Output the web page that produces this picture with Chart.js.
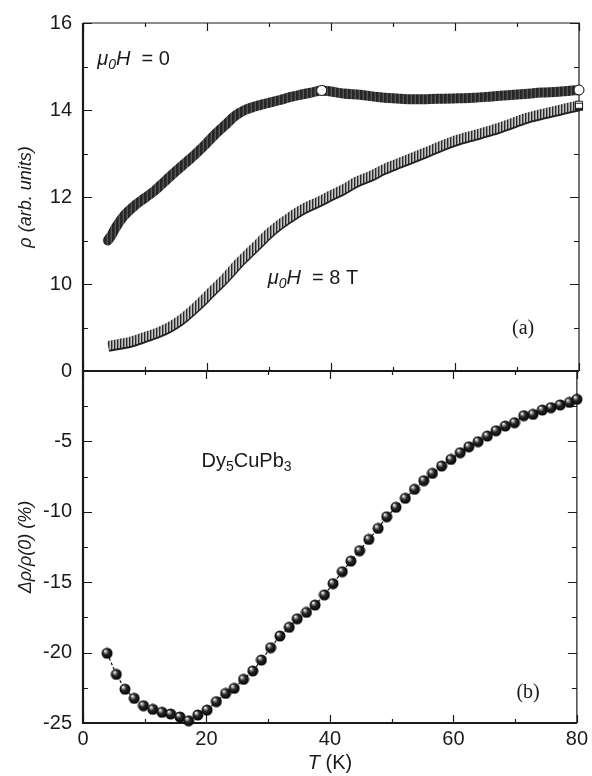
<!DOCTYPE html>
<html>
<head>
<meta charset="utf-8">
<script src="https://cdn.jsdelivr.net/npm/chart.js@4.4.0/dist/chart.umd.min.js"></script>
<style>
  html, body { margin: 0; padding: 0; background: #fff; }
  #wrap { position: relative; width: 592px; height: 776px; }
  #wrap canvas { position: absolute; left: 0; top: 0; }
</style>
</head>
<body>
<div id="wrap">
  <canvas id="bottom-chart" width="592" height="776"></canvas>
  <canvas id="top-chart" width="592" height="776"></canvas>
</div>
<script>
// panel (a): resistivity, zero field (circles)
const tempZero = [4.0, 4.6, 5.2, 6.5, 8.4, 10.0, 11.6, 13.2, 14.8, 16.5, 18.1, 19.7, 21.3, 22.9, 24.5, 26.1, 27.7, 29.5, 31.8, 33.5, 35.0, 36.8, 38.5,
                  39.8, 42.0, 44.7, 47.5, 50.0, 52.5, 55.3, 58.0, 60.5, 63.0, 65.9, 68.5, 71.3, 74.0, 76.7, 80.0];
const rhoZero  = [11.0, 11.12, 11.28, 11.55, 11.81, 11.98, 12.15, 12.36, 12.57, 12.78, 12.98, 13.2, 13.44, 13.65, 13.86, 14.0, 14.08, 14.15, 14.23, 14.3, 14.35, 14.4, 14.45,
                  14.43, 14.38, 14.35, 14.3, 14.27, 14.25, 14.25, 14.26, 14.27, 14.28, 14.31, 14.34, 14.37, 14.4, 14.42, 14.46];

// panel (a): resistivity, 8 T (squares)
const tempField = [4.1, 5.7, 7.3, 8.9, 10.5, 12.1, 13.8, 15.2, 16.5, 18.1, 19.7, 21.0, 22.4, 23.7, 25.0, 26.4, 28.0, 29.9, 31.8, 33.4, 35.0, 38.2,
                   40.0, 42.0, 44.2, 46.3, 48.5, 51.1, 53.2, 55.3, 58.0, 60.5, 63.2, 65.9, 68.6, 71.3, 74.0, 76.7, 78.5, 80.0];
const rhoField  = [8.59, 8.63, 8.67, 8.74, 8.82, 8.9, 9.01, 9.13, 9.27, 9.47, 9.69, 9.88, 10.07, 10.27, 10.48, 10.68, 10.9, 11.17, 11.39, 11.55, 11.7, 11.92,
                   12.05, 12.19, 12.37, 12.49, 12.65, 12.8, 12.92, 13.04, 13.2, 13.33, 13.44, 13.55, 13.68, 13.82, 13.92, 14.01, 14.07, 14.12];

// panel (b): magnetoresistance
const tempMR = [3.9, 5.4, 6.8, 8.3, 9.8, 11.3, 12.8, 14.2, 15.7, 17.1, 18.6, 20.1, 21.6, 23.1, 24.5, 26.0, 27.5, 28.9, 30.4, 31.9, 33.4, 34.7,
                36.2, 37.6, 39.1, 40.5, 42.0, 43.4, 44.8, 46.3, 47.8, 49.2, 50.7, 52.2, 53.7, 55.2, 56.6, 58.1, 59.6, 61.1, 62.5, 64.0,
                65.5, 66.9, 68.4, 69.9, 71.4, 72.9, 74.4, 75.8, 77.3, 78.8, 80.0];
const mrValues = [-20.05, -21.55, -22.6, -23.25, -23.77, -24.03, -24.24, -24.36, -24.57, -24.84, -24.43, -24.08, -23.48, -22.9, -22.54, -21.9, -21.3, -20.53, -19.65, -18.82, -18.2, -17.6,
                  -17.14, -16.62, -15.9, -15.1, -14.25, -13.5, -12.76, -11.96, -11.18, -10.35, -9.68, -9.04, -8.4, -7.79, -7.27, -6.75, -6.28, -5.8, -5.38, -5.02,
                  -4.62, -4.24, -3.91, -3.67, -3.17, -3.08, -2.77, -2.6, -2.41, -2.23, -2.01];

// tick labels
const tempTickLabels = [0, 20, 40, 60, 80];
const rhoTickLabels = [10, 12, 14, 16];
const mrTickLabels = [0, -5, -10, -15, -20, -25];

const SANS = "'Liberation Sans', Arial, sans-serif";
const SERIF = "'Liberation Serif', 'Times New Roman', serif";
const INK = '#1a1a1a';

// end of each measurement run shows as an open marker
const openZero = [tempZero.indexOf(38.5), tempZero.length - 1];
const openField = [tempField.length - 1];

function pts(xs, ys) {
    return xs.map((x, i) => ({ x: x, y: ys[i] }));
}

// vertical stripes, imitating hundreds of stacked markers
function stripes(colors) {
    const c = document.createElement('canvas');
    c.width = colors.length;
    c.height = 1;
    const g = c.getContext('2d');
    colors.forEach((col, i) => { g.fillStyle = col; g.fillRect(i, 0, 1, 1); });
    return g.createPattern(c, 'repeat');
}

// little shaded ball used in panel (b)
function makeSphere(r) {
    const c = document.createElement('canvas');
    c.width = c.height = r * 2 + 1;
    const g = c.getContext('2d');
    const grad = g.createRadialGradient(r * 0.7, r * 0.65, 0.3, r + 0.5, r + 0.5, r);
    grad.addColorStop(0, '#ffffff');
    grad.addColorStop(0.2, '#a0a0a0');
    grad.addColorStop(0.45, '#2a2a2a');
    grad.addColorStop(1, '#000000');
    g.fillStyle = grad;
    g.beginPath();
    g.arc(r + 0.5, r + 0.5, r, 0, Math.PI * 2);
    g.fill();
    return c;
}

/**
 * Frame with inward ticks on all four sides
 */
const framePlugin = {
    id: 'frame',
    beforeDatasetsDraw(chart, args, opts) {
        const { ctx, chartArea: a, scales } = chart;
        const xs = scales.x, ys = scales.y;
        const isMajor = (v, step) => Math.abs(v / step - Math.round(v / step)) < 1e-6;
        ctx.save();
        ctx.strokeStyle = INK;
        ctx.lineWidth = 1.2;
        ctx.beginPath();
        for (let v = xs.min; v <= xs.max + 1e-9; v += opts.xStep) {
            const px = Math.round(xs.getPixelForValue(v)) + 0.5;
            const len = isMajor(v, opts.xMajor) ? 8 : 4;
            ctx.moveTo(px, a.top); ctx.lineTo(px, a.top + len);
            ctx.moveTo(px, a.bottom); ctx.lineTo(px, a.bottom - len);
        }
        for (let v = ys.min; v <= ys.max + 1e-9; v += opts.yStep) {
            const py = Math.round(ys.getPixelForValue(v)) + 0.5;
            const len = isMajor(v, opts.yMajor) ? 9 : 5;
            ctx.moveTo(a.left, py); ctx.lineTo(a.left + len, py);
            ctx.moveTo(a.right, py); ctx.lineTo(a.right - len, py);
        }
        ctx.stroke();
        // top and right edges thinner
        ctx.beginPath();
        ctx.moveTo(a.left, a.top); ctx.lineTo(a.right, a.top); ctx.lineTo(a.right, a.bottom);
        ctx.stroke();
        // left and bottom axes heavier
        ctx.lineWidth = 2.2;
        ctx.beginPath();
        ctx.moveTo(a.left, a.top); ctx.lineTo(a.left, a.bottom); ctx.lineTo(a.right, a.bottom);
        ctx.stroke();
        ctx.restore();
    }
};

// dark lower edge under the 8 T band
const edgePlugin = {
    id: 'edge',
    beforeDatasetDraw(chart, args) {
        if (args.index !== 1) return;
        const ctx = chart.ctx;
        ctx.save();
        ctx.shadowColor = '#222';
        ctx.shadowOffsetY = 2;
        ctx.shadowBlur = 0;
    },
    afterDatasetDraw(chart, args) {
        if (args.index !== 1) return;
        chart.ctx.restore();
    }
};

function drawRich(ctx, x, y, parts) {
    let cx = x;
    ctx.textBaseline = 'alphabetic';
    ctx.textAlign = 'left';
    for (const p of parts) {
        ctx.font = p.font;
        ctx.fillText(p.text, cx, y + (p.dy || 0));
        cx += ctx.measureText(p.text).width;
    }
}

/**
 * Panel annotations, anchored in data coordinates
 */
const notesPlugin = {
    id: 'notes',
    afterDraw(chart, args, opts) {
        const { ctx, scales } = chart;
        ctx.save();
        ctx.fillStyle = INK;
        for (const n of opts.items) {
            drawRich(ctx, scales.x.getPixelForValue(n.x), scales.y.getPixelForValue(n.y), n.parts);
        }
        if (opts.xTitle) {
            const cx = (chart.chartArea.left + chart.chartArea.right) / 2;
            ctx.font = 'italic 20px ' + SANS;
            const w1 = ctx.measureText('T ').width;
            ctx.font = '20px ' + SANS;
            const w2 = ctx.measureText('(K)').width;
            drawRich(ctx, cx - (w1 + w2) / 2, 769, [
                { text: 'T ', font: 'italic 20px ' + SANS },
                { text: '(K)', font: '20px ' + SANS }
            ]);
        }
        ctx.restore();
    }
};

const muH = (rest) => [
    { text: 'μ', font: 'italic 20px ' + SANS },
    { text: '0', font: 'italic 14px ' + SANS, dy: 4 },
    { text: 'H', font: 'italic 20px ' + SANS },
    { text: rest, font: '20px ' + SANS }
];

const tickFont = { family: SANS, size: 20 };

// ---- panel (a)
new Chart(document.getElementById('top-chart').getContext('2d'), {
    type: 'line',
    data: {
        datasets: [{
            label: 'μ0H = 0',
            data: pts(tempZero, rhoZero),
            borderColor: stripes(['#262626', '#262626', '#3a3a3a', '#555555']),
            borderWidth: 10,
            borderCapStyle: 'round',
            cubicInterpolationMode: 'monotone',
            pointStyle: 'circle',
            pointRadius: c => openZero.includes(c.dataIndex) ? 5 : 0,
            pointBorderWidth: 1,
            pointBackgroundColor: '#ffffff',
            pointBorderColor: '#111',
            clip: false
        }, {
            label: 'μ0H = 8 T',
            data: pts(tempField, rhoField),
            borderColor: stripes(['#2a2a2a', '#8a8a8a', '#c4c4c4']),
            borderWidth: 9,
            borderCapStyle: 'butt',
            cubicInterpolationMode: 'monotone',
            pointStyle: 'rect',
            pointRadius: c => openField.includes(c.dataIndex) ? 5 : 0,
            pointBorderWidth: 1,
            pointBackgroundColor: '#ffffff',
            pointBorderColor: '#222',
            clip: false
        }]
    },
    options: {
        responsive: false,
        devicePixelRatio: 1,
        animation: false,
        events: [],
        layout: { padding: { top: 19, bottom: 405, left: 0, right: 13 } },
        scales: {
            x: { type: 'linear', min: 0, max: 80, display: false },
            y: {
                type: 'linear', min: 8, max: 16,
                afterFit: s => { s.width = 83; },
                grid: { display: false, drawTicks: false },
                border: { display: false },
                ticks: {
                    stepSize: 1, autoSkip: false, padding: 11,
                    color: INK, font: tickFont,
                    callback: v => rhoTickLabels.includes(v) ? String(v) : ''
                },
                title: {
                    display: true, text: 'ρ (arb. units)', color: INK,
                    font: { family: SANS, size: 18, style: 'italic' },
                    padding: { top: 15, bottom: 0 }
                }
            }
        },
        plugins: {
            legend: { display: false },
            tooltip: { enabled: false },
            frame: { xStep: 10, xMajor: 20, yStep: 1, yMajor: 2 },
            notes: {
                items: [
                    { x: 2.3, y: 15.03, parts: muH('  = 0') },
                    { x: 29.8, y: 10.0, parts: muH('  = 8 T') },
                    { x: 69.2, y: 8.84, parts: [{ text: '(a)', font: '20px ' + SERIF }] }
                ]
            }
        }
    },
    plugins: [framePlugin, edgePlugin, notesPlugin]
});

// ---- panel (b)
new Chart(document.getElementById('bottom-chart').getContext('2d'), {
    type: 'line',
    data: {
        datasets: [{
            label: 'Δρ/ρ(0)',
            data: pts(tempMR, mrValues),
            borderColor: '#111',
            borderWidth: 1.2,
            borderDash: [3, 2],
            tension: 0,
            pointStyle: makeSphere(5.5),
            pointRadius: 6,
            clip: false
        }]
    },
    options: {
        responsive: false,
        devicePixelRatio: 1,
        animation: false,
        events: [],
        layout: { padding: { top: 371, bottom: 0, left: 0, right: 13 } },
        scales: {
            x: {
                type: 'linear', min: 0, max: 80,
                afterFit: s => { s.height = 53; },
                grid: { display: false, drawTicks: false },
                border: { display: false },
                ticks: {
                    stepSize: 10, autoSkip: false, padding: 4, maxRotation: 0,
                    color: INK, font: tickFont,
                    callback: v => tempTickLabels.includes(v) ? String(v) : ''
                }
            },
            y: {
                type: 'linear', min: -25, max: 0,
                afterFit: s => { s.width = 83; },
                grid: { display: false, drawTicks: false },
                border: { display: false },
                ticks: {
                    stepSize: 2.5, autoSkip: false, padding: 11,
                    color: INK, font: tickFont,
                    callback: v => mrTickLabels.includes(v) ? String(v) : ''
                },
                title: {
                    display: true, text: 'Δρ/ρ(0) (%)', color: INK,
                    font: { family: SANS, size: 18, style: 'italic' },
                    padding: { top: 15, bottom: 0 }
                }
            }
        },
        plugins: {
            legend: { display: false },
            tooltip: { enabled: false },
            frame: { xStep: 10, xMajor: 20, yStep: 2.5, yMajor: 5 },
            notes: {
                xTitle: true,
                items: [
                    { x: 19.2, y: -6.82, parts: [
                        { text: 'Dy', font: '20px ' + SANS },
                        { text: '5', font: '14px ' + SANS, dy: 4 },
                        { text: 'CuPb', font: '20px ' + SANS },
                        { text: '3', font: '14px ' + SANS, dy: 4 }
                    ] },
                    { x: 70.2, y: -23.22, parts: [{ text: '(b)', font: '20px ' + SERIF }] }
                ]
            }
        }
    },
    plugins: [framePlugin, notesPlugin]
});
</script>
</body>
</html>
